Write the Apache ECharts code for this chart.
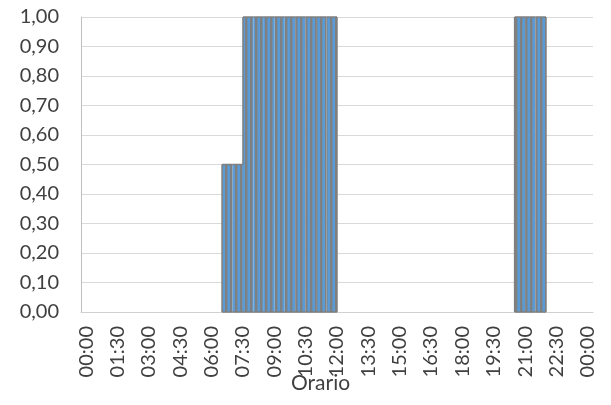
<!DOCTYPE html>
<html>
<head>
<meta charset="utf-8">
<script src="https://cdn.jsdelivr.net/npm/echarts@6/dist/echarts.min.js"></script>
<style>
  html, body { margin: 0; padding: 0; background: #ffffff; }
  #chart { width: 611px; height: 405px; }
</style>
</head>
<body>
<div id="chart"></div>
<script>
// Half-hour slots across the day (the last one closes the day at midnight)
const times = [
  '00:00','00:30','01:00','01:30','02:00','02:30','03:00','03:30','04:00','04:30',
  '05:00','05:30','06:00','06:30','07:00','07:30','08:00','08:30','09:00','09:30',
  '10:00','10:30','11:00','11:30','12:00','12:30','13:00','13:30','14:00','14:30',
  '15:00','15:30','16:00','16:30','17:00','17:30','18:00','18:30','19:00','19:30',
  '20:00','20:30','21:00','21:30','22:00','22:30','23:00','23:30','00:00'
];

// Level held from each slot until the next one
const levels = [
  0, 0, 0, 0, 0, 0, 0, 0, 0, 0,
  0, 0, 0, 0.5, 0.5, 1, 1, 1, 1, 1,
  1, 1, 1, 1, 0, 0, 0, 0, 0, 0,
  0, 0, 0, 0, 0, 0, 0, 0, 0, 0,
  0, 1, 1, 1, 0, 0, 0, 0, 0
];

const yTicks = { min: 0, max: 1, step: 0.1 };

// Striped fill: grey hairlines over blue
function stripePattern() {
  const c = document.createElement('canvas');
  c.width = 5; c.height = 4;
  const g = c.getContext('2d');
  g.fillStyle = '#5b9bd5';
  g.fillRect(0, 0, 5, 4);
  g.fillStyle = '#808080';
  g.fillRect(0, 0, 2, 4);
  g.fillStyle = 'rgba(128,128,128,0.4)';
  g.fillRect(2, 0, 1, 4);
  return c;
}
const pattern = { image: stripePattern(), repeat: 'repeat' };

const labelFont = { fontFamily: 'Lato', fontSize: 20, color: '#404040' };
const edge = { stroke: '#7f7f7f', lineWidth: 1.5 };

const chart = echarts.init(document.getElementById('chart'), null, { renderer: 'canvas' });

chart.setOption({
  animation: false,
  backgroundColor: '#ffffff',
  grid: { left: 81, right: 18, top: 17, bottom: 93, containLabel: false },
  xAxis: {
    type: 'category',
    data: times,
    boundaryGap: true,
    axisLine: { show: true, lineStyle: { color: '#d0d0d0', width: 1 } },
    axisTick: { show: false },
    axisLabel: Object.assign({ interval: 2, rotate: 90, margin: 14 }, labelFont),
    splitLine: { show: false }
  },
  yAxis: {
    type: 'value',
    min: yTicks.min,
    max: yTicks.max,
    interval: yTicks.step,
    axisLine: { show: true, lineStyle: { color: '#bfbfbf', width: 1 } },
    axisTick: { show: false },
    axisLabel: Object.assign({
      margin: 22,
      formatter: v => v.toFixed(2).replace('.', ',')
    }, labelFont),
    splitLine: { show: true, lineStyle: { color: '#d9d9d9', width: 1 } }
  },
  series: [{
    type: 'custom',
    data: levels.map((v, i) => [i, v]),
    encode: { x: 0, y: 1 },
    renderItem: function (params, api) {
      const i = api.value(0);
      const v = api.value(1);
      if (!v) return null;
      const prev = i > 0 ? levels[i - 1] : 0;
      const next = i < levels.length - 1 ? levels[i + 1] : 0;
      const top = api.coord([i, v]);
      const bottom = api.coord([i + 1, 0]);
      const x0 = top[0], x1 = bottom[0], y0 = top[1], y1 = bottom[1];
      const children = [{
        type: 'rect',
        shape: { x: x0, y: y0, width: x1 - x0, height: y1 - y0 },
        style: { fill: pattern }
      }, {
        type: 'line',
        shape: { x1: x0, y1: y0, x2: x1, y2: y0 },
        style: edge
      }, {
        type: 'line',
        shape: { x1: x0, y1: y1, x2: x1, y2: y1 },
        style: edge
      }];
      if (prev < v) {
        const yPrev = api.coord([i, prev])[1];
        children.push({ type: 'line', shape: { x1: x0, y1: y0, x2: x0, y2: yPrev }, style: edge });
      }
      if (next < v) {
        const yNext = api.coord([i, next])[1];
        children.push({ type: 'line', shape: { x1: x1, y1: y0, x2: x1, y2: yNext }, style: edge });
      }
      return { type: 'group', children: children };
    }
  }],
  graphic: [{
    type: 'text',
    left: 291,
    top: 373,
    style: {
      text: 'Orario',
      fontFamily: 'Lato',
      fontSize: 21,
      fill: '#404040'
    }
  }]
});
</script>
</body>
</html>
